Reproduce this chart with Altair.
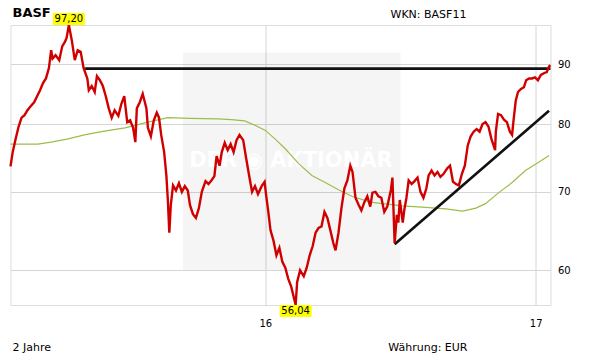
import altair as alt
import pandas as pd

price_dates = [
    "2015-01-21", "2015-01-24", "2015-01-28", "2015-02-01", "2015-02-05", "2015-02-09", "2015-02-13", "2015-02-17", "2015-02-22", "2015-02-26",
    "2015-03-02", "2015-03-06", "2015-03-10", "2015-03-14", "2015-03-17", "2015-03-19", "2015-03-23", "2015-03-28", "2015-04-01", "2015-04-05",
    "2015-04-07", "2015-04-10", "2015-04-14", "2015-04-18", "2015-04-22", "2015-04-26", "2015-04-30", "2015-05-05", "2015-05-07", "2015-05-11",
    "2015-05-15", "2015-05-18", "2015-05-22", "2015-05-26", "2015-05-30", "2015-06-03", "2015-06-07", "2015-06-11", "2015-06-16", "2015-06-20",
    "2015-06-24", "2015-06-28", "2015-07-02", "2015-07-06", "2015-07-09", "2015-07-11", "2015-07-15", "2015-07-19", "2015-07-24", "2015-07-26",
    "2015-07-30", "2015-08-03", "2015-08-07", "2015-08-10", "2015-08-13", "2015-08-17", "2015-08-20", "2015-08-22", "2015-08-24", "2015-08-26",
    "2015-08-29", "2015-09-02", "2015-09-06", "2015-09-10", "2015-09-14", "2015-09-18", "2015-09-21", "2015-09-25", "2015-09-29", "2015-10-03",
    "2015-10-07", "2015-10-12", "2015-10-16", "2015-10-20", "2015-10-24", "2015-10-27", "2015-10-31", "2015-11-03", "2015-11-07", "2015-11-11",
    "2015-11-15", "2015-11-19", "2015-11-23", "2015-11-27", "2015-12-02", "2015-12-06", "2015-12-10", "2015-12-14", "2015-12-18", "2015-12-22",
    "2015-12-27", "2015-12-31", "2016-01-02", "2016-01-05", "2016-01-08", "2016-01-12", "2016-01-16", "2016-01-20", "2016-01-24", "2016-01-28",
    "2016-02-01", "2016-02-05", "2016-02-11", "2016-02-13", "2016-02-17", "2016-02-22", "2016-02-26", "2016-03-01", "2016-03-05", "2016-03-09",
    "2016-03-13", "2016-03-17", "2016-03-21", "2016-03-25", "2016-03-29", "2016-04-02", "2016-04-05", "2016-04-09", "2016-04-13", "2016-04-17",
    "2016-04-21", "2016-04-25", "2016-04-28", "2016-05-02", "2016-05-06", "2016-05-10", "2016-05-14", "2016-05-18", "2016-05-22", "2016-05-25",
    "2016-05-29", "2016-06-02", "2016-06-06", "2016-06-10", "2016-06-14", "2016-06-19", "2016-06-21", "2016-06-24", "2016-06-27", "2016-06-29",
    "2016-07-01", "2016-07-05", "2016-07-07", "2016-07-10", "2016-07-13", "2016-07-17", "2016-07-21", "2016-07-25", "2016-07-29", "2016-08-02",
    "2016-08-06", "2016-08-09", "2016-08-13", "2016-08-17", "2016-08-21", "2016-08-25", "2016-08-29", "2016-09-03", "2016-09-07", "2016-09-11",
    "2016-09-15", "2016-09-19", "2016-09-23", "2016-09-27", "2016-10-01", "2016-10-05", "2016-10-09", "2016-10-13", "2016-10-17", "2016-10-21",
    "2016-10-25", "2016-10-29", "2016-11-02", "2016-11-07", "2016-11-08", "2016-11-11", "2016-11-15", "2016-11-19", "2016-11-23", "2016-11-27",
    "2016-11-30", "2016-12-02", "2016-12-05", "2016-12-08", "2016-12-12", "2016-12-16", "2016-12-19", "2016-12-23", "2016-12-27", "2016-12-31",
    "2017-01-04", "2017-01-08", "2017-01-12", "2017-01-16", "2017-01-19", "2017-01-21",
]
price_values = [
    73.6, 75.7, 77.7, 79.6, 81.0, 81.4, 82.2, 82.8, 83.5, 84.5,
    85.5, 86.7, 87.5, 89.3, 92.5, 91.0, 91.6, 90.7, 93.2, 94.1,
    94.8, 97.2, 94.3, 90.7, 92.5, 92.2, 89.3, 87.5, 85.5, 86.2,
    85.2, 87.9, 87.2, 86.2, 84.5, 82.5, 81.0, 82.2, 81.3, 83.2,
    84.5, 80.3, 80.6, 79.4, 77.2, 82.5, 83.5, 84.9, 82.5, 79.4,
    78.1, 80.6, 81.8, 81.0, 78.3, 75.7, 72.3, 68.9, 64.6, 68.2,
    70.9, 70.2, 71.2, 70.0, 70.8, 70.2, 68.2, 67.0, 66.5, 67.8,
    70.0, 71.5, 71.1, 71.6, 72.2, 75.1, 73.7, 75.7, 77.1, 76.0,
    76.9, 75.7, 77.5, 78.3, 77.5, 74.8, 72.3, 70.0, 70.8, 69.7,
    70.8, 71.4, 69.6, 67.3, 64.9, 63.6, 61.8, 62.7, 61.0, 60.3,
    59.0, 58.1, 56.04, 58.6, 60.0, 59.3, 60.3, 61.8, 62.9, 64.6,
    65.2, 65.4, 67.3, 66.5, 64.9, 63.3, 62.4, 64.6, 67.8, 70.5,
    71.6, 73.7, 72.8, 69.2, 68.3, 67.5, 68.6, 69.4, 68.0, 69.9,
    70.0, 69.4, 69.2, 67.3, 68.0, 70.3, 72.0, 63.3, 66.9, 65.9,
    68.9, 65.9, 67.5, 69.2, 71.6, 71.1, 71.5, 72.0, 70.0, 69.2,
    70.5, 72.3, 73.0, 72.3, 72.8, 72.1, 72.5, 73.3, 73.7, 71.4,
    71.1, 70.9, 72.5, 73.7, 76.7, 78.1, 78.8, 79.2, 78.8, 80.0,
    80.3, 79.6, 77.7, 76.0, 78.8, 81.6, 81.4, 80.7, 80.3, 78.8,
    78.3, 80.6, 83.8, 85.2, 85.7, 86.0, 87.2, 87.5, 87.5, 87.7,
    87.2, 88.1, 88.4, 88.6, 89.6, 89.8,
]

ma_dates = [
    "2015-01-21", "2015-02-27", "2015-03-17", "2015-04-09", "2015-05-01", "2015-05-24", "2015-06-25", "2015-07-26",
    "2015-08-22", "2015-09-21", "2015-10-29", "2015-11-16", "2015-12-04", "2015-12-18", "2016-01-01", "2016-01-14",
    "2016-01-28", "2016-02-15", "2016-03-04", "2016-03-22", "2016-04-09", "2016-04-27", "2016-05-22", "2016-07-04",
    "2016-08-05", "2016-09-01", "2016-09-24", "2016-10-12", "2016-10-25", "2016-11-12", "2016-11-30", "2016-12-18",
    "2017-01-05", "2017-01-19",
]
ma_values = [
    76.9, 76.9, 77.2, 77.7, 78.3, 78.8, 79.4, 80.3,
    81.0, 80.9, 80.8, 80.7, 80.5, 79.8, 79.0, 77.7,
    76.2, 74.0, 72.3, 71.3, 70.3, 69.4, 68.6, 68.1,
    67.9, 67.7, 67.4, 67.8, 68.4, 69.9, 71.3, 73.0,
    74.2, 75.2,
]

resistance_dates = ["2015-05-02", "2017-01-21"]
resistance_values = [89.2, 89.2]
trend_dates = ["2016-06-24", "2017-01-19"]
trend_values = [63.15, 82.1]

y_ticks = [60, 70, 80, 90]
x_tick_years = [2016, 2017]

title_text = "BASF"
wkn_text = "WKN: BASF11"
period_text = "2 Jahre"
currency_text = "Währung: EUR"
watermark_text = "DER ◉ AKTIONÄR"

price = pd.DataFrame({"date": price_dates, "value": price_values})
ma = pd.DataFrame({"date": ma_dates, "value": ma_values})
resistance = pd.DataFrame({"date": resistance_dates, "value": resistance_values})
trend = pd.DataFrame({"date": trend_dates, "value": trend_values})

imax = price["value"].idxmax()
imin = price["value"].idxmin()
hi = pd.DataFrame({"date": [price_dates[imax]], "value": [price_values[imax]],
                   "label": [f"{price_values[imax]:.2f}".replace(".", ",")]})
lo = pd.DataFrame({"date": [price_dates[imin]], "value": [price_values[imin]],
                   "label": [f"{price_values[imin]:.2f}".replace(".", ",")]})

GRID = "#d6d6d6"
FONT = "DejaVu Sans"

x_scale = alt.Scale(
    type="utc",
    domain=[alt.DateTime(year=2015, month=1, date=21, utc=True),
            alt.DateTime(year=2017, month=1, date=21, utc=True)],
)
y_scale = alt.Scale(type="log", domain=[min(price_values), max(price_values)], nice=False, zero=False)

x_axis = alt.Axis(
    values=[alt.DateTime(year=yv, month=1, date=1, utc=True) for yv in x_tick_years],
    format="%y", title=None, ticks=False, domain=False, grid=True, gridColor=GRID,
    labelPadding=13, labelFontSize=10, labelFont=FONT, labelColor="#000",
)
y_axis = alt.Axis(
    orient="right", values=y_ticks, format="d", title=None, ticks=False, domain=False,
    grid=True, gridColor=GRID, labelPadding=7, labelFontSize=10, labelFont=FONT, labelColor="#000",
)

X = alt.X("date:T", scale=x_scale, axis=x_axis)
Y = alt.Y("value:Q", scale=y_scale, axis=y_axis)

one = pd.DataFrame({"k": [0]})

bg = alt.Chart(one).mark_rect(color="#000000", opacity=0.04).encode(
    x=alt.value(172.5), x2=alt.value(390), y=alt.value(27.5), y2=alt.value(245)
)
wm = alt.Chart(one).mark_text(
    text=watermark_text, font="DejaVu Sans", fontWeight="bold", fontSize=21,
    color="#ffffff", align="center", baseline="middle",
).encode(x=alt.value(280.5), y=alt.value(136))

ma_line = alt.Chart(ma).mark_line(color="#9cbd4a", strokeWidth=1.2).encode(x=X, y=Y)
res_line = alt.Chart(resistance).mark_line(color="#111111", strokeWidth=2.6).encode(x=X, y=Y)
trend_line = alt.Chart(trend).mark_line(color="#111111", strokeWidth=2.6).encode(x=X, y=Y)
price_line = alt.Chart(price).mark_line(color="#d10000", strokeWidth=2.4).encode(x=X, y=Y)

box_shape = "M-1,-0.375L1,-0.375L1,0.375L-1,0.375Z"
hi_box = alt.Chart(hi).mark_point(shape=box_shape, size=1024, filled=True, color="#ffff00",
                                  opacity=1, strokeWidth=0, yOffset=-6).encode(x=X, y=Y)
hi_txt = alt.Chart(hi).mark_text(fontSize=10, font=FONT, color="#000", baseline="middle",
                                 align="center", yOffset=-6).encode(x=X, y=Y, text="label:N")
lo_box = alt.Chart(lo).mark_point(shape=box_shape, size=1024, filled=True, color="#ffff00",
                                  opacity=1, strokeWidth=0, yOffset=6).encode(x=X, y=Y)
lo_txt = alt.Chart(lo).mark_text(fontSize=10, font=FONT, color="#000", baseline="middle",
                                 align="center", yOffset=6).encode(x=X, y=Y, text="label:N")


def label(txt, xv, yv, size=11, weight="normal"):
    return alt.Chart(one).mark_text(
        text=txt, font=FONT, fontSize=size, fontWeight=weight, color="#000",
        align="left", baseline="alphabetic",
    ).encode(x=alt.value(xv), y=alt.value(yv))


t_title = label(title_text, 2, -7.7, size=13, weight="bold")
t_wkn = label(wkn_text, 380, -6.7)
t_period = label(period_text, 2, 326)
t_cur = label(currency_text, 377.8, 326)

chart = alt.layer(
    bg, wm, ma_line, res_line, trend_line, price_line,
    hi_box, hi_txt, lo_box, lo_txt, t_title, t_wkn, t_period, t_cur,
).properties(
    width=540, height=280,
    autosize=alt.AutoSizeParams(type="none"),
    padding={"left": 10.5, "top": 25, "right": 60.5, "bottom": 59},
).configure_view(stroke=GRID, strokeWidth=1).configure(background="#ffffff")

chart.save("out.html", embed_options={"renderer": "svg", "actions": False})
